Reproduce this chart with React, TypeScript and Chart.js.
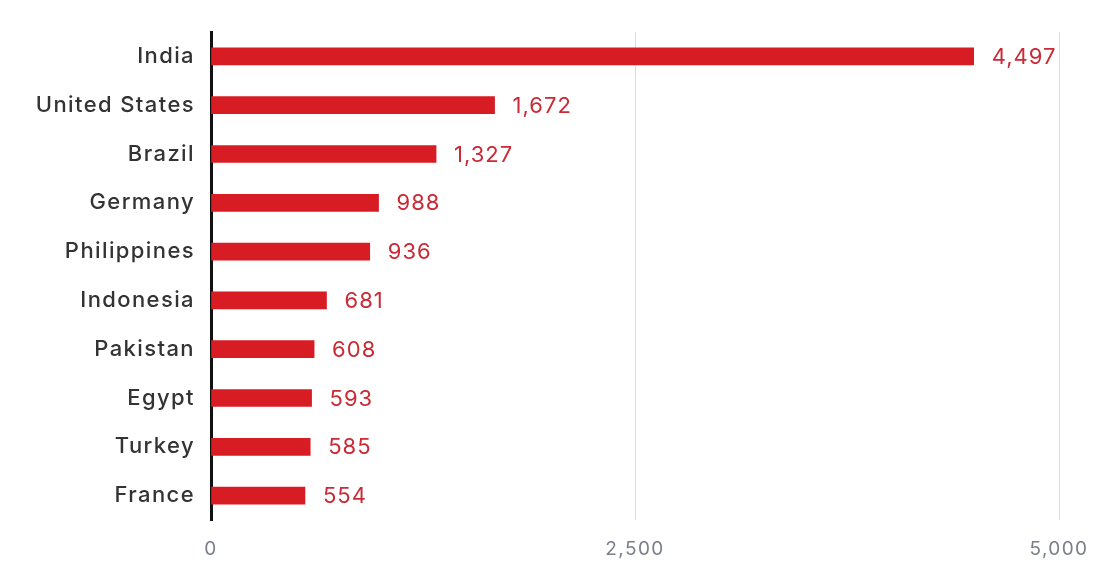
import React, { useEffect, useRef } from "react";
import { Chart, registerables, Plugin } from "chart.js";

Chart.register(...registerables);

const countries = [
  "India",
  "United States",
  "Brazil",
  "Germany",
  "Philippines",
  "Indonesia",
  "Pakistan",
  "Egypt",
  "Turkey",
  "France",
];
const values = [4497, 1672, 1327, 988, 936, 681, 608, 593, 585, 554];
const xTicks = [0, 2500, 5000];

const FONT = "Inter, 'Open Sans', sans-serif";

// the original font is wider than Inter, so space the letters out a bit
const spacing: Plugin<"bar"> = {
  id: "spacing",
  beforeDraw(chart) {
    (chart.ctx as any).letterSpacing = "1.4px";
  },
};

// draws the number to the right of each bar
const valueLabels: Plugin<"bar"> = {
  id: "valueLabels",
  afterDatasetsDraw(chart) {
    const ctx = chart.ctx;
    const meta = chart.getDatasetMeta(0);
    ctx.save();
    (ctx as any).letterSpacing = "1px";
    ctx.font = `400 22px ${FONT}`;
    ctx.fillStyle = "#c92a36";
    ctx.textAlign = "left";
    ctx.textBaseline = "middle";
    meta.data.forEach((bar, i) => {
      ctx.fillText(values[i].toLocaleString("en-US"), bar.x + 18, bar.y + 1);
    });
    ctx.restore();
  },
};

const App: React.FC = () => {
  const canvasRef = useRef<HTMLCanvasElement>(null);
  const chartRef = useRef<Chart | null>(null);

  useEffect(() => {
    if (!canvasRef.current) return;
    if (chartRef.current) chartRef.current.destroy();

    chartRef.current = new Chart(canvasRef.current, {
      type: "bar",
      data: {
        labels: countries,
        datasets: [
          {
            data: values,
            backgroundColor: "#d71c24",
            barThickness: 17,
          },
        ],
      },
      options: {
        indexAxis: "y",
        responsive: true,
        maintainAspectRatio: false,
        animation: false,
        layout: { padding: { top: 32, right: 49, left: 0, bottom: 0 } },
        plugins: {
          legend: { display: false },
          tooltip: { enabled: false },
        },
        scales: {
          x: {
            min: 0,
            max: 5000,
            afterBuildTicks: (scale) => {
              scale.ticks = xTicks.map((v) => ({ value: v }));
            },
            afterFit: (scale) => {
              scale.height = 51;
            },
            grid: { color: "#dcdcdc", lineWidth: 1, drawTicks: false },
            border: { display: false },
            ticks: {
              color: "#7a7f8a",
              padding: 18,
              font: { family: FONT, size: 19 },
              callback: (v) => Number(v).toLocaleString("en-US"),
            },
          },
          y: {
            afterFit: (scale) => {
              scale.width = 211;
            },
            grid: { display: false, drawTicks: false },
            border: { display: true, color: "#111111", width: 3 },
            ticks: {
              color: "#333333",
              padding: 16,
              font: { family: FONT, size: 22, weight: 500 },
            },
          },
        },
      },
      plugins: [spacing, valueLabels],
    });

    return () => {
      if (chartRef.current) {
        chartRef.current.destroy();
        chartRef.current = null;
      }
    };
  }, []);

  return (
    <div style={{ margin: -8, width: 1108, height: 571, background: "#fff" }}>
      <canvas ref={canvasRef} />
    </div>
  );
};

export default App;
